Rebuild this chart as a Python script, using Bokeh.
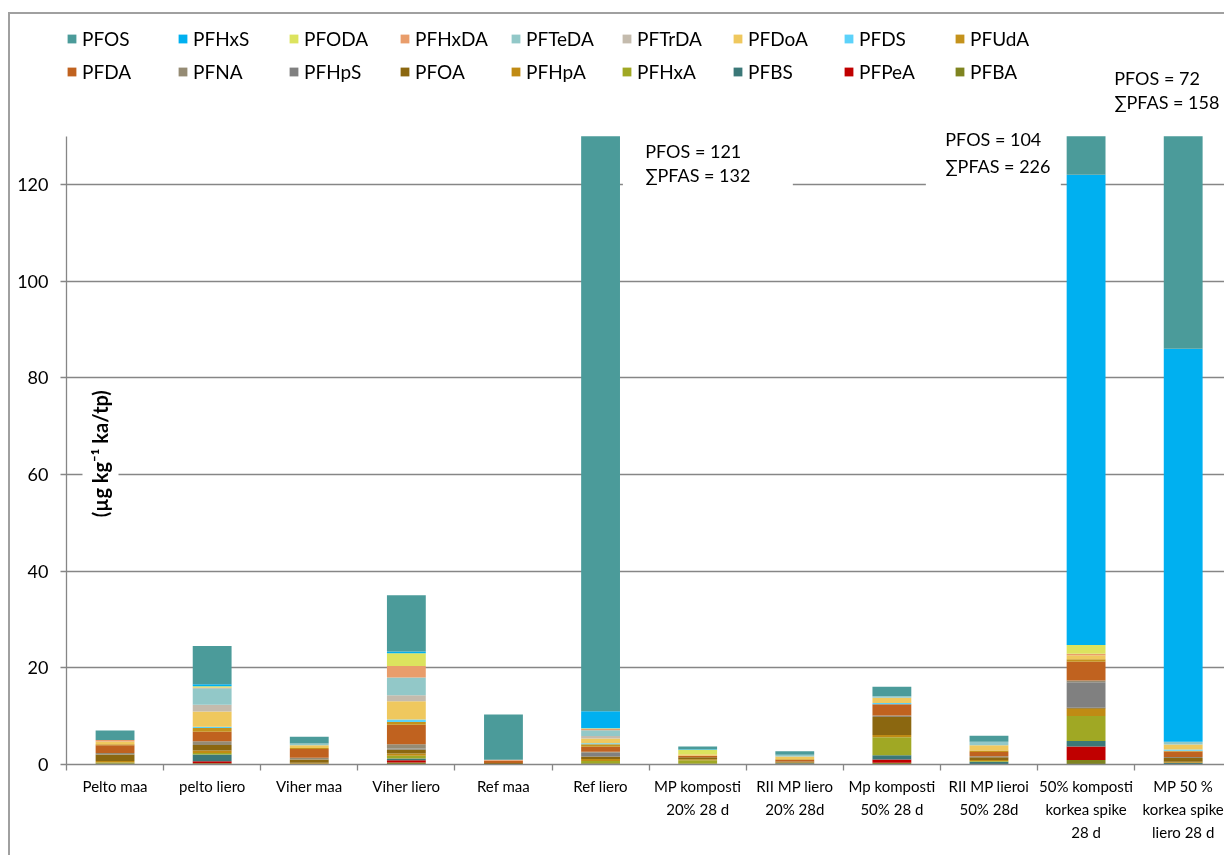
from bokeh.plotting import figure
from bokeh.models import (ColumnDataSource, Range1d, FixedTicker, Legend, LegendItem,
                          Label, BoxAnnotation)
from bokeh.embed import file_html
from bokeh.resources import INLINE

# Sample groups, left to right
categories = [
    "Pelto maa", "pelto liero", "Viher maa", "Viher liero", "Ref maa", "Ref liero",
    "MP komposti\n20% 28 d", "RII MP liero\n20% 28d", "Mp komposti\n50% 28 d",
    "RII MP lieroi\n50% 28d", "50% komposti\nkorkea spike\n28 d",
    "MP 50 %\nkorkea spike\nliero 28 d",
]

# Concentrations per compound (µg/kg dry weight), one value per sample group
PFOS = [2.0, 7.9, 1.4, 11.6, 9.35, 121, 0.55, 0.75, 2.0, 1.25, 104, 72]
PFHxS = [0, 0.4, 0, 0.4, 0, 3.5, 0.1, 0, 0, 0, 97.25, 81.3]
PFODA = [0, 0.25, 0, 2.6, 0, 0.1, 0.95, 0, 0, 0, 1.85, 0]
PFHxDA = [0.3, 0.15, 0, 2.4, 0.2, 0.3, 0, 0, 0, 0, 0.3, 0]
PFTeDA = [0, 3.45, 0.35, 3.65, 0, 1.2, 0, 0.35, 0.3, 0.7, 0, 0.55]
PFTrDA = [0, 1.4, 0, 1.25, 0, 0.5, 0, 0, 0, 0, 0, 0]
PFDoA = [0.55, 3.15, 0.6, 3.8, 0, 1.0, 0.3, 0.55, 1.05, 1.1, 0.8, 1.05]
PFDS = [0, 0.25, 0, 0.5, 0, 0.2, 0, 0, 0.3, 0, 0, 0.25]
PFUdA = [0.2, 0.75, 0.2, 0.55, 0, 0.55, 0, 0.15, 0, 0.3, 0.55, 0.15]
PFDA = [1.6, 2.0, 1.8, 4.05, 0.5, 1.0, 0.3, 0.35, 2.3, 0.9, 3.85, 1.15]
PFNA = [0.35, 0.75, 0.35, 0.9, 0, 0.2, 0, 0, 0.3, 0.2, 0.4, 0.2]
PFHpS = [0, 0, 0, 0.2, 0, 0.8, 0, 0, 0, 0, 5.25, 0]
PFOA = [1.3, 1.15, 0.7, 0.8, 0.2, 0.5, 0.4, 0.2, 3.75, 0.55, 0.2, 0.8]
PFHpA = [0.35, 0.5, 0.2, 0.5, 0, 0.4, 0.2, 0.15, 0.45, 0.2, 1.5, 0.2]
PFHxA = [0.15, 0.35, 0, 0.55, 0, 0.5, 0.75, 0, 3.75, 0.2, 5.2, 0]
PFBS = [0, 1.4, 0, 0.35, 0, 0, 0, 0.25, 0.85, 0.55, 1.15, 0.35]
PFPeA = [0, 0.4, 0, 0.5, 0, 0, 0, 0, 0.7, 0, 2.75, 0]
PFBA = [0.25, 0.25, 0.15, 0.4, 0.1, 0.25, 0.15, 0, 0.35, 0, 0.95, 0]

# Legend order (top of the stack first)
compounds = ["PFOS", "PFHxS", "PFODA", "PFHxDA", "PFTeDA", "PFTrDA", "PFDoA", "PFDS", "PFUdA",
             "PFDA", "PFNA", "PFHpS", "PFOA", "PFHpA", "PFHxA", "PFBS", "PFPeA", "PFBA"]
values = [PFOS, PFHxS, PFODA, PFHxDA, PFTeDA, PFTrDA, PFDoA, PFDS, PFUdA,
          PFDA, PFNA, PFHpS, PFOA, PFHpA, PFHxA, PFBS, PFPeA, PFBA]
colors = ["#4B9B9A", "#00B0F0", "#DCE35E", "#E99D6B", "#92C8C8", "#C4BBAD", "#EFC85E",
          "#5CD2FA", "#C4921C", "#C0621F", "#958B74", "#808080", "#8B6710", "#C08B14",
          "#A0A824", "#3B7878", "#C00000", "#7F8420"]

# Groups that get a PFOS / total note
noted = [5, 10, 11]

# Value axis ends here; taller stacks are cut off at this level
Y_CUT = 130

n = len(categories)
centers = [i + 0.5 for i in range(n)]

FONT = "Lato"
GRAY = "#868686"

p = figure(width=1216, height=843, x_range=Range1d(0, 11.946), y_range=Range1d(0, 154.76),
           output_backend="svg", toolbar_location=None,
           min_border_left=56, min_border_right=0, min_border_top=2, min_border_bottom=93)
p.outline_line_color = None
p.background_fill_color = "white"
p.border_fill_color = "white"
p.styles = {"position": "fixed", "left": "8px", "top": "12px",
            "border-left": "2px solid #A0A0A0", "border-top": "2px solid #A0A0A0"}

# Stacked bars, bottom compound first, each segment limited to the axis end
by_name = {}
base = [0.0] * n
for name, vals, color in reversed(list(zip(compounds, values, colors))):
    tops = [b + v for b, v in zip(base, vals)]
    src = ColumnDataSource(dict(
        x=centers, value=vals,
        bottom=[min(b, Y_CUT) for b in base],
        top=[min(t, Y_CUT) for t in tops],
    ))
    by_name[name] = p.vbar(x="x", bottom="bottom", top="top", width=0.4,
                           fill_color=color, line_color=None, source=src)
    base = tops

# Axes
xa = p.xaxis[0]
xa.ticker = FixedTicker(ticks=centers, minor_ticks=list(range(n + 1)))
xa.major_label_overrides = {c: lab for c, lab in zip(centers, categories)}
xa.major_tick_line_color = None
xa.major_tick_out = 6
xa.major_tick_in = 0
xa.minor_tick_line_color = GRAY
xa.minor_tick_line_width = 1.3
xa.minor_tick_out = 6
xa.minor_tick_in = 0
xa.axis_line_color = GRAY
xa.axis_line_width = 1.3
xa.major_label_text_font = FONT
xa.major_label_text_font_size = "15px"
xa.major_label_text_color = "black"
xa.major_label_text_line_height = 1.28
xa.major_label_standoff = 6

ya = p.yaxis[0]
ya.ticker = FixedTicker(ticks=[0, 20, 40, 60, 80, 100, 120], minor_ticks=[])
ya.bounds = (0, Y_CUT)
ya.major_tick_out = 6
ya.major_tick_in = 0
ya.major_tick_line_color = GRAY
ya.major_tick_line_width = 1.3
ya.axis_line_color = GRAY
ya.axis_line_width = 1.3
ya.major_label_text_font = FONT
ya.major_label_text_font_size = "18px"
ya.major_label_text_color = "black"
ya.major_label_standoff = 12

p.xgrid.visible = False
p.ygrid.ticker = FixedTicker(ticks=[20, 40, 60, 80, 100, 120])
p.ygrid.grid_line_color = GRAY
p.ygrid.grid_line_width = 1.3

# White boxes behind the notes that sit over the top gridline
for left, right in [(5.73, 7.48), (8.85, 10.24)]:
    p.add_layout(BoxAnnotation(left=left, right=right, bottom=118.8, top=Y_CUT,
                               fill_color="white", fill_alpha=1, line_color=None))

# Legend: two rows of nine
items = [LegendItem(label=name, renderers=[by_name[name]]) for name in compounds]
legend = Legend(items=items, location=(0, 681), orientation="horizontal", ncols=9,
                glyph_width=11, glyph_height=11, label_standoff=5, label_width=85,
                label_height=21, spacing=10, padding=0, margin=0,
                border_line_color=None, background_fill_alpha=0,
                label_text_font=FONT, label_text_font_size="19px", label_text_color="black")
p.add_layout(legend)

# PFOS / total notes for the tall bars
note_pos = {5: (5.96, 127.0, 121.9), 10: (9.05, 129.5, 123.9), 11: (10.79, 142.1, 137.0)}
for i in noted:
    total = sum(v[i] for v in values)
    nx, y1, y2 = note_pos[i]
    for txt, ny in [(f"PFOS = {PFOS[i]:g}", y1), (f"\u2211PFAS = {total:.0f}", y2)]:
        p.add_layout(Label(x=nx, y=ny, text=txt, text_font=FONT, text_font_size="18px",
                           text_color="black", text_align="left", text_baseline="middle"))

# Unit label inside the plot area
p.add_layout(Label(x=0.35, y=64.3, text="(\u00b5g kg\u207b\u00b9 ka/tp)", angle=90,
                   angle_units="deg", text_align="center", text_baseline="middle",
                   text_font=FONT, text_font_style="bold", text_font_size="20px",
                   text_color="black", background_fill_color="white", padding=6))

open("out.html", "w").write(file_html(p, INLINE))
